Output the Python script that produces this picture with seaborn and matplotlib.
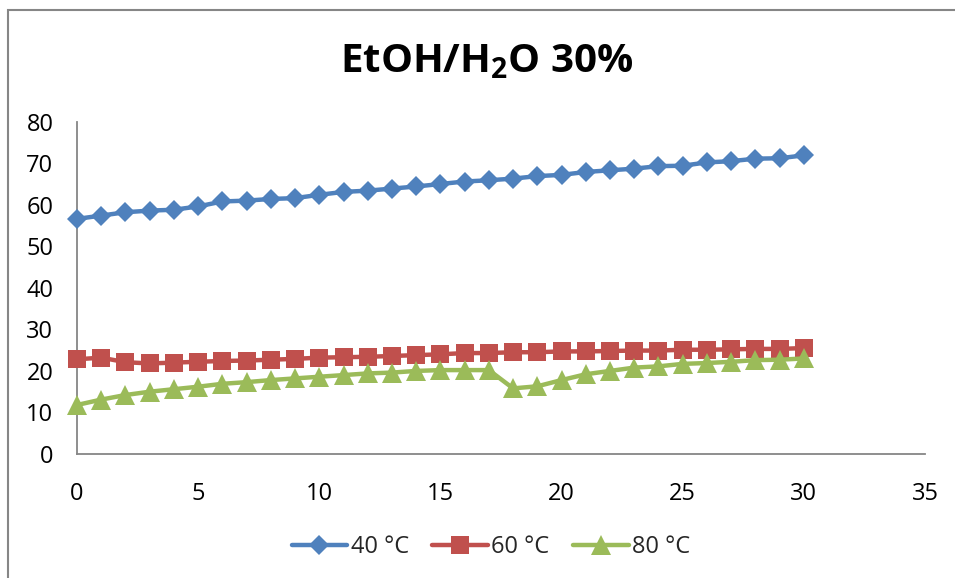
import numpy as np
import pandas as pd
import matplotlib
matplotlib.use("Agg")
import matplotlib.pyplot as plt
from matplotlib.patches import Rectangle
import seaborn as sns

# Time points and measured series for each temperature
time = list(range(31))
t40 = [56.6, 57.4, 58.2, 58.6, 58.8, 59.6, 60.8, 61.0, 61.4, 61.6, 62.4, 63.1, 63.4, 63.9, 64.4, 65.0,
       65.6, 65.9, 66.3, 66.9, 67.2, 67.9, 68.3, 68.7, 69.3, 69.4, 70.2, 70.5, 71.1, 71.2, 71.9]
t60 = [22.8, 23.2, 22.1, 21.8, 22.0, 22.2, 22.4, 22.5, 22.7, 22.9, 23.2, 23.3, 23.4, 23.6, 23.8, 24.0,
       24.3, 24.3, 24.5, 24.5, 24.7, 24.7, 24.8, 24.9, 24.9, 25.1, 25.1, 25.2, 25.3, 25.3, 25.5]
t80 = [11.8, 13.1, 14.2, 15.0, 15.6, 16.2, 16.9, 17.3, 17.8, 18.2, 18.6, 19.0, 19.4, 19.6, 20.0, 20.2,
       20.2, 20.2, 15.8, 16.3, 17.8, 19.2, 20.0, 20.8, 21.1, 21.7, 21.9, 22.2, 22.6, 22.7, 23.0]
series_labels = ["40 °C", "60 °C", "80 °C"]
x_ticks = [0, 5, 10, 15, 20, 25, 30, 35]
y_ticks = [0, 10, 20, 30, 40, 50, 60, 70, 80]
title = "EtOH/H$_2$O 30%"

sns.set_theme(style="white")
plt.rcParams["font.family"] = ["Open Sans", "DejaVu Sans"]
plt.rcParams["mathtext.fontset"] = "custom"
plt.rcParams["mathtext.rm"] = "Open Sans:bold"
plt.rcParams["mathtext.it"] = "Open Sans:bold"
plt.rcParams["mathtext.bf"] = "Open Sans:bold"

df = pd.DataFrame({
    "time": time * 3,
    "value": t40 + t60 + t80,
    "series": [series_labels[0]] * len(t40) + [series_labels[1]] * len(t60) + [series_labels[2]] * len(t80),
})

fig = plt.figure(figsize=(9.55, 5.78), dpi=100)
ax = fig.add_axes([77 / 955, 1 - 454 / 578, (925 - 77) / 955, (454 - 121.7) / 578])

colors = ["#4F81BD", "#C0504D", "#9BBB59"]
markers = ["D", "s", "^"]
sizes = [10.5, 13.5, 14]
for lab, col, mk, ms in zip(series_labels, colors, markers, sizes):
    sub = df[df["series"] == lab]
    sns.lineplot(data=sub, x="time", y="value", ax=ax, color=col, marker=mk,
                 markersize=ms, markeredgewidth=0, linewidth=3.2, label=lab,
                 clip_on=False, zorder=3)

ax.set_xlim(0, 35)
ax.set_ylim(0, 80)
ax.set_xticks(x_ticks)
ax.set_yticks(y_ticks)
ax.set_xlabel("")
ax.set_ylabel("")
ax.tick_params(axis="both", length=0, labelsize=17, colors="black")
ax.tick_params(axis="y", pad=17)
ax.tick_params(axis="x", pad=20)
for s in ["top", "right"]:
    ax.spines[s].set_visible(False)
for s in ["left", "bottom"]:
    ax.spines[s].set_color("#868686")
    ax.spines[s].set_linewidth(1.3)

fig.text(487 / 955, 1 - 62 / 578, title, ha="center", va="center",
         fontsize=29, fontweight="bold", color="black")

leg = ax.legend(loc="center", bbox_to_anchor=(491 / 955, 1 - 547 / 578),
                bbox_transform=fig.transFigure, ncol=3, frameon=False,
                fontsize=17, handlelength=2.35, handletextpad=0.15,
                columnspacing=1.0, borderaxespad=0)

# Chart area border
fig.patches.append(Rectangle((7.5 / 955, -0.1), 2, 1.1 - 0.1 - 10 / 578 + 0.1,
                             transform=fig.transFigure, fill=False,
                             edgecolor="#868686", linewidth=1.5))

fig.savefig("out.png", dpi=100)
